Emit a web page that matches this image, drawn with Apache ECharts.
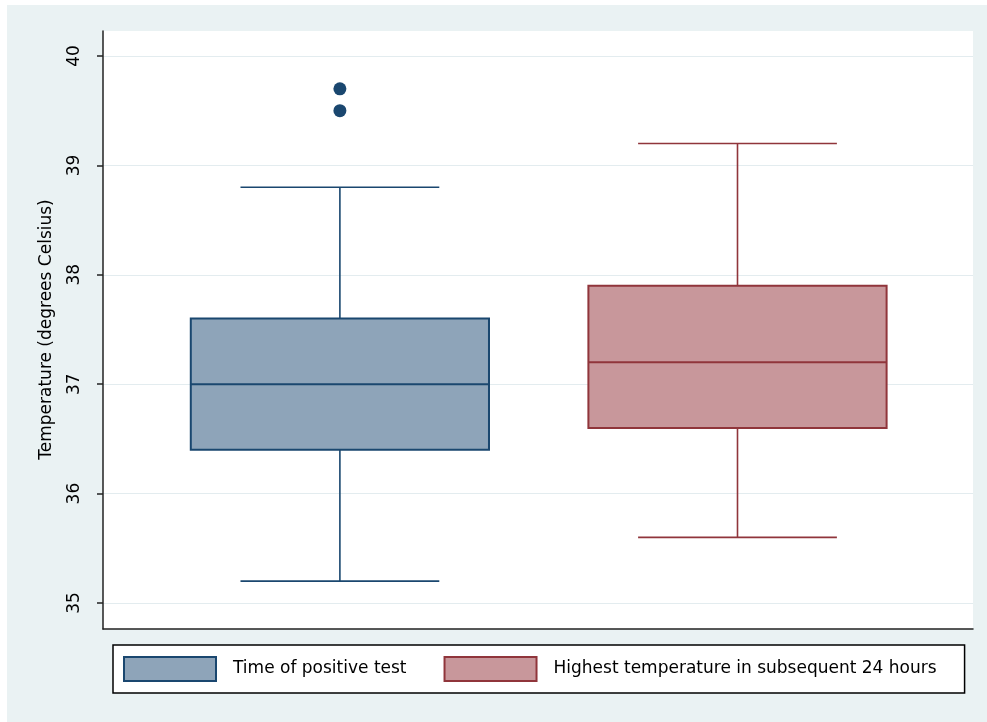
<!DOCTYPE html>
<html>
<head>
<meta charset="utf-8">
<script src="https://cdn.jsdelivr.net/npm/echarts@6/dist/echarts.min.js"></script>
<style>
  html, body { margin: 0; padding: 0; background: #fff; }
  #wrap { position: relative; width: 987px; height: 722px; }
  #bg { position: absolute; left: 7px; top: 5px; right: 0; bottom: 0; background: #eaf2f3; }
  #chart { position: absolute; left: 0; top: 0; width: 987px; height: 722px; }
</style>
</head>
<body>
<div id="wrap">
  <div id="bg"></div>
  <div id="chart"></div>
</div>
<script>
// box plot summaries, one entry per group
var groups = ['Time of positive test', 'Highest temperature in subsequent 24 hours'];
var positions = [1, 2];
var lowWhisker = [35.2, 35.6];
var q1 = [36.4, 36.6];
var median = [37.0, 37.2];
var q3 = [37.6, 37.9];
var highWhisker = [38.8, 39.2];
// outside values (group 1 only)
var outlierValues = [39.5, 39.7];
var yTicks = [35, 36, 37, 38, 39, 40];

var fills = ['#8ea4b9', '#c8979b'];
var strokes = ['#1a476f', '#90353b'];

var chart = echarts.init(document.getElementById('chart'));

var renderBox = function (params, api) {
    var x = api.value(0);
    var unit = api.size([1, 0])[0];
    var halfBox = unit * 0.375;
    var halfCap = unit * 0.25;
    var pLo = api.coord([x, api.value(1)]);
    var pQ1 = api.coord([x, api.value(2)]);
    var pMed = api.coord([x, api.value(3)]);
    var pQ3 = api.coord([x, api.value(4)]);
    var pHi = api.coord([x, api.value(5)]);
    var stroke = strokes[params.seriesIndex];
    var fill = fills[params.seriesIndex];
    var lineStyle = { stroke: stroke, lineWidth: 1.6 };
    return {
        type: 'group',
        children: [
            { type: 'line', shape: { x1: pLo[0], y1: pLo[1], x2: pQ1[0], y2: pQ1[1] }, style: lineStyle },
            { type: 'line', shape: { x1: pQ3[0], y1: pQ3[1], x2: pHi[0], y2: pHi[1] }, style: lineStyle },
            { type: 'line', shape: { x1: pLo[0] - halfCap, y1: pLo[1], x2: pLo[0] + halfCap, y2: pLo[1] }, style: lineStyle },
            { type: 'line', shape: { x1: pHi[0] - halfCap, y1: pHi[1], x2: pHi[0] + halfCap, y2: pHi[1] }, style: lineStyle },
            {
                type: 'rect',
                shape: { x: pQ3[0] - halfBox, y: pQ3[1], width: halfBox * 2, height: pQ1[1] - pQ3[1] },
                style: { fill: fill, stroke: stroke, lineWidth: 2 }
            },
            { type: 'line', shape: { x1: pMed[0] - halfBox, y1: pMed[1], x2: pMed[0] + halfBox, y2: pMed[1] }, style: { stroke: stroke, lineWidth: 2 } }
        ]
    };
};

var boxSeries = groups.map(function (name, i) {
    return {
        name: name,
        type: 'custom',
        xAxisIndex: 1,
        yAxisIndex: 1,
        renderItem: renderBox,
        itemStyle: { color: fills[i], borderColor: strokes[i] },
        data: [[positions[i], lowWhisker[i], q1[i], median[i], q3[i], highWhisker[i]]],
        z: 3
    };
});

var outlierSeries = {
    name: 'outliers',
    type: 'scatter',
    xAxisIndex: 1,
    yAxisIndex: 1,
    symbol: 'circle',
    symbolSize: 13,
    itemStyle: { color: strokes[0], opacity: 1 },
    data: outlierValues.map(function (v) { return [positions[0], v]; }),
    z: 4
};

var option = {
    animation: false,
    textStyle: { fontFamily: 'DejaVu Sans', color: '#000' },
    grid: [
        { left: 103, right: 14, top: 31, bottom: 93, show: true, backgroundColor: '#fff', borderWidth: 0 },
        { left: 103, right: 14, top: 56, bottom: 119 }
    ],
    xAxis: [
        {
            gridIndex: 0, type: 'value', min: 0, max: 1,
            axisLine: { show: true, lineStyle: { color: '#222', width: 1.5 } },
            axisTick: { show: false }, axisLabel: { show: false }, splitLine: { show: false }
        },
        {
            gridIndex: 1, type: 'value', min: 0.4042, max: 2.5923, show: false
        }
    ],
    yAxis: [
        {
            gridIndex: 0, type: 'value', min: 0, max: 1,
            axisLine: { show: true, lineStyle: { color: '#222', width: 1.5 } },
            axisTick: { show: false }, axisLabel: { show: false }, splitLine: { show: false }
        },
        {
            gridIndex: 1, type: 'value',
            min: yTicks[0], max: yTicks[yTicks.length - 1], interval: 1,
            name: 'Temperature (degrees Celsius)',
            nameLocation: 'middle',
            nameGap: 48,
            nameTextStyle: { fontSize: 17, color: '#000' },
            axisLine: { show: false },
            axisTick: { show: true, length: 6, lineStyle: { color: '#222', width: 1.5 } },
            axisLabel: { rotate: 90, margin: 20, fontSize: 17, color: '#000' },
            splitLine: { show: true, lineStyle: { color: '#e3ecef', width: 1 } }
        }
    ],
    legend: {
        left: 113,
        top: 645,
        orient: 'horizontal',
        padding: [11, 28, 11, 10],
        backgroundColor: '#fff',
        borderColor: '#000',
        borderWidth: 1.5,
        borderRadius: 0,
        itemWidth: 92,
        itemHeight: 24,
        itemGap: 37,
        selectedMode: false,
        textStyle: { fontSize: 17, color: '#000', padding: [0, 0, 0, 12] },
        data: groups.map(function (name, i) {
            return { name: name, icon: 'rect', itemStyle: { color: fills[i], borderColor: strokes[i], borderWidth: 2 } };
        })
    },
    series: boxSeries.concat([outlierSeries])
};

chart.setOption(option);
</script>
</body>
</html>
